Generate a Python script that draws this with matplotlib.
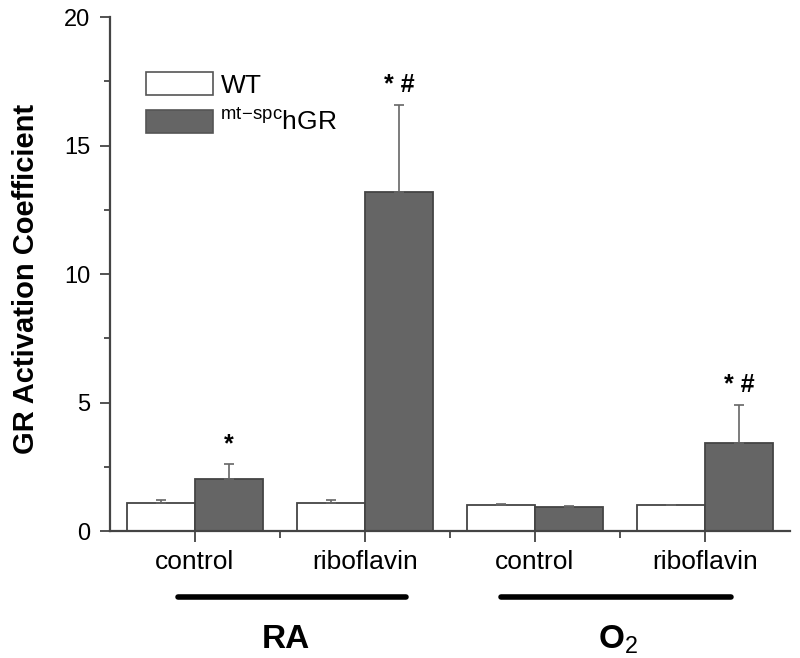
import numpy as np
import matplotlib
matplotlib.use("Agg")
import matplotlib.pyplot as plt
from matplotlib.patches import Patch
import matplotlib.transforms as mtransforms

plt.rcParams['font.family'] = ['Liberation Sans', 'DejaVu Sans']
plt.rcParams['mathtext.fontset'] = 'custom'
plt.rcParams['mathtext.rm'] = 'Liberation Sans'
plt.rcParams['mathtext.it'] = 'Liberation Sans'

treatments = ["control", "riboflavin", "control", "riboflavin"]
groups = ["RA", "O$_2$"]
wt_mean = [1.10, 1.10, 1.00, 1.00]
wt_err = [0.12, 0.12, 0.06, 0.0]
hgr_mean = [2.04, 13.2, 0.92, 3.44]
hgr_err = [0.56, 3.38, 0.06, 1.46]
marks = ["*", "* #", "", "* #"]

x = np.arange(len(treatments))
w = 0.4
axis_col = "#444444"
edge_col = "#444444"
err_col = "#666666"

fig = plt.figure(figsize=(8, 6.58), dpi=100)
ax = fig.add_axes([0.1375, 0.193, 0.85, 0.781])

ax.bar(x - w / 2, wt_mean, w, color="white", edgecolor=edge_col, linewidth=1.3)
ax.bar(x + w / 2, hgr_mean, w, color="#656565", edgecolor=edge_col, linewidth=1.3)

# upper error bars only
ax.errorbar(x - w / 2, wt_mean, yerr=[np.zeros(4), wt_err], fmt="none",
            ecolor=err_col, capsize=3.5, elinewidth=1.2, capthick=1.2)
ax.errorbar(x + w / 2, hgr_mean, yerr=[np.zeros(4), hgr_err], fmt="none",
            ecolor=err_col, capsize=3.5, elinewidth=1.2, capthick=1.2)

for xi, m, e, t in zip(x, hgr_mean, hgr_err, marks):
    if t:
        ax.text(xi + w / 2, m + e + 0.3, t, ha="center", va="bottom",
                fontsize=18, fontweight="bold")

ax.set_xlim(-0.5, 3.5)
ax.set_ylim(0, 20)
ax.set_yticks([0, 5, 10, 15, 20])
ax.set_yticks(np.arange(2.5, 20, 5), minor=True)
ax.set_xticks(x)
ax.set_xticks([0.5, 1.5, 2.5], minor=True)
ax.set_xticklabels(treatments, fontsize=19)
ax.tick_params(axis="y", labelsize=17, length=7, width=1.3, color=axis_col, pad=7)
ax.tick_params(axis="y", which="minor", length=4, width=1.3, color=axis_col)
ax.tick_params(axis="x", which="major", length=8, width=1.3, color=axis_col, pad=6)
ax.tick_params(axis="x", which="minor", length=5, width=1.3, color=axis_col)

for s in ["top", "right"]:
    ax.spines[s].set_visible(False)
for s in ["left", "bottom"]:
    ax.spines[s].set_color(axis_col)
    ax.spines[s].set_linewidth(1.6)

ax.set_ylabel("GR Activation Coefficient", fontsize=21, fontweight="bold")
ax.yaxis.set_label_coords(-0.103, 0.49)

trans = mtransforms.blended_transform_factory(ax.transData, ax.transAxes)
group_lines = [(-0.1, 1.24), (1.8, 3.15)]
group_text_x = [0.535, 2.49]
for (x0, x1), gx, g in zip(group_lines, group_text_x, groups):
    ax.plot([x0, x1], [-0.128, -0.128], transform=trans, color="black",
            linewidth=4, clip_on=False, solid_capstyle="round")
    ax.text(gx, -0.212, g, transform=trans, ha="center", va="center",
            fontsize=24, fontweight="bold")

handles = [Patch(facecolor="white", edgecolor="#555555", linewidth=1.2),
           Patch(facecolor="#656565", edgecolor="#555555", linewidth=1.2)]
ax.legend(handles, ["WT", r"$^{\mathrm{mt\!-\!spc}}$hGR"], loc="upper left",
          bbox_to_anchor=(0.053, 0.893), frameon=False, fontsize=19,
          borderpad=0, borderaxespad=0,
          handlelength=2.55, handleheight=0.95, labelspacing=0.45, handletextpad=0.27)

fig.savefig("out.png", dpi=100)
